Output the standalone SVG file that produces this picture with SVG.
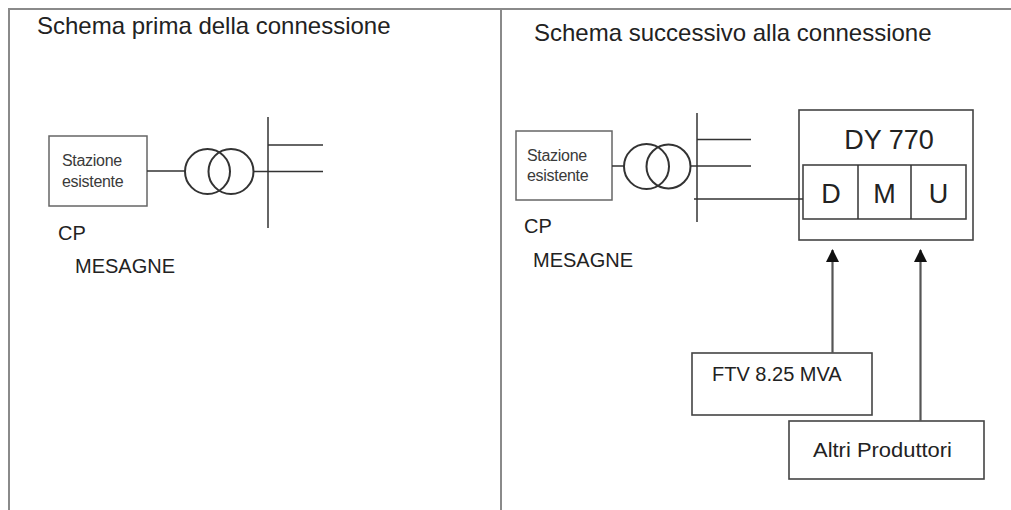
<svg xmlns="http://www.w3.org/2000/svg" width="1011" height="510" viewBox="0 0 1011 510">
<style>
.frame{fill:none;stroke:#8a8a8a;stroke-width:2}
.box{fill:#fff;stroke:#666;stroke-width:1.5}
.dbox{fill:#fff;stroke:#444;stroke-width:1.6}
.ln{fill:none;stroke:#333;stroke-width:1.5}
.cl{fill:none;stroke:#333;stroke-width:2}
.arr{fill:none;stroke:#555;stroke-width:2.2}
.title{font-family:"Liberation Sans",Arial,sans-serif;font-size:24px;fill:#222}
.st{font-family:"Liberation Sans",Arial,sans-serif;font-size:16px;fill:#3a3a3a;letter-spacing:-0.3px}
.lbl{font-family:"Liberation Sans",Arial,sans-serif;font-size:20px;fill:#222}
.big{font-family:"Liberation Sans",Arial,sans-serif;font-size:27px;fill:#222;text-anchor:middle}
</style>
<defs>
<marker id="ah" viewBox="0 0 13 13" refX="12" refY="6.5" markerWidth="13" markerHeight="13" markerUnits="userSpaceOnUse" orient="auto">
<path d="M0,0 L13,6.5 L0,13 Z" fill="#111"/>
</marker>
</defs>

<g id="frame">
<path class="frame" d="M9,510 V9 H1011"/>
<path class="frame" d="M501,9 V510"/>
</g>

<g id="titles">
<text class="title" x="37" y="34">Schema prima della connessione</text>
<text class="title" x="534" y="41">Schema successivo alla connessione</text>
</g>

<!-- Left panel -->
<g id="stazione-left">
<rect class="box" x="49" y="136" width="98" height="70"/>
<text class="st" x="62" y="166">Stazione</text>
<text class="st" x="62" y="187">esistente</text>
</g>
<g id="trafo-left">
<circle class="cl" cx="207.5" cy="171.5" r="22.5"/>
<circle class="cl" cx="231" cy="171.5" r="22.5"/>
</g>
<g id="bus-left">
<line class="ln" x1="268" y1="117" x2="268" y2="228"/>
</g>
<g id="label-left">
<text class="lbl" x="58" y="240" font-size="21">CP</text>
<text class="lbl" x="75" y="273">MESAGNE</text>
</g>

<!-- Right panel -->
<g id="stazione-right">
<rect class="box" x="516" y="131" width="96" height="69"/>
<text class="st" x="527" y="161">Stazione</text>
<text class="st" x="527" y="181">esistente</text>
</g>
<g id="trafo-right">
<circle class="cl" cx="646.5" cy="166.5" r="22.5"/>
<circle class="cl" cx="668.5" cy="166.5" r="22"/>
</g>
<g id="bus-right">
<line class="ln" x1="697" y1="113" x2="697" y2="222"/>
</g>
<g id="label-right">
<text class="lbl" x="524" y="233" font-size="21">CP</text>
<text class="lbl" x="533" y="267">MESAGNE</text>
</g>

<g id="dy770">
<rect class="dbox" x="799" y="110" width="174" height="130" stroke-width="2"/>
<text class="big" x="889" y="149">DY 770</text>
<rect class="dbox" x="803" y="165" width="163" height="54"/>
<line class="ln" x1="858" y1="165" x2="858" y2="219" stroke="#555"/>
<line class="ln" x1="911" y1="165" x2="911" y2="219" stroke="#555"/>
<text class="big" x="831" y="203" font-size="28">D</text>
<text class="big" x="884.5" y="203" font-size="28">M</text>
<text class="big" x="938.5" y="203" font-size="28">U</text>
</g>

<g id="ftv">
<rect class="dbox" x="692" y="353" width="180" height="62"/>
<text class="lbl" x="712" y="381" font-size="20.5">FTV 8.25 MVA</text>
</g>

<g id="altri">
<rect class="dbox" x="789" y="421" width="195" height="58"/>
<text class="lbl" x="813" y="457" textLength="139" lengthAdjust="spacingAndGlyphs">Altri Produttori</text>
</g>

<g id="connectors">
<!-- left -->
<line class="ln" x1="147" y1="171" x2="185" y2="171" stroke="#555"/>
<line class="ln" x1="253.5" y1="171.5" x2="268" y2="171.5"/>
<line class="ln" x1="268" y1="145" x2="323" y2="145" stroke="#555"/>
<line class="ln" x1="268" y1="171.5" x2="323" y2="171.5" stroke="#555"/>
<!-- right -->
<line class="ln" x1="612" y1="166" x2="624" y2="166" stroke="#555"/>
<line class="ln" x1="690.5" y1="166" x2="751" y2="166" stroke="#555"/>
<line class="ln" x1="697" y1="139.5" x2="751" y2="139.5"/>
<line class="ln" x1="694" y1="199" x2="803" y2="199" stroke="#555"/>
<!-- arrows -->
<line class="arr" x1="832.5" y1="353" x2="832.5" y2="250" marker-end="url(#ah)"/>
<line class="arr" x1="920.5" y1="421" x2="920.5" y2="250" marker-end="url(#ah)"/>
</g>
</svg>
